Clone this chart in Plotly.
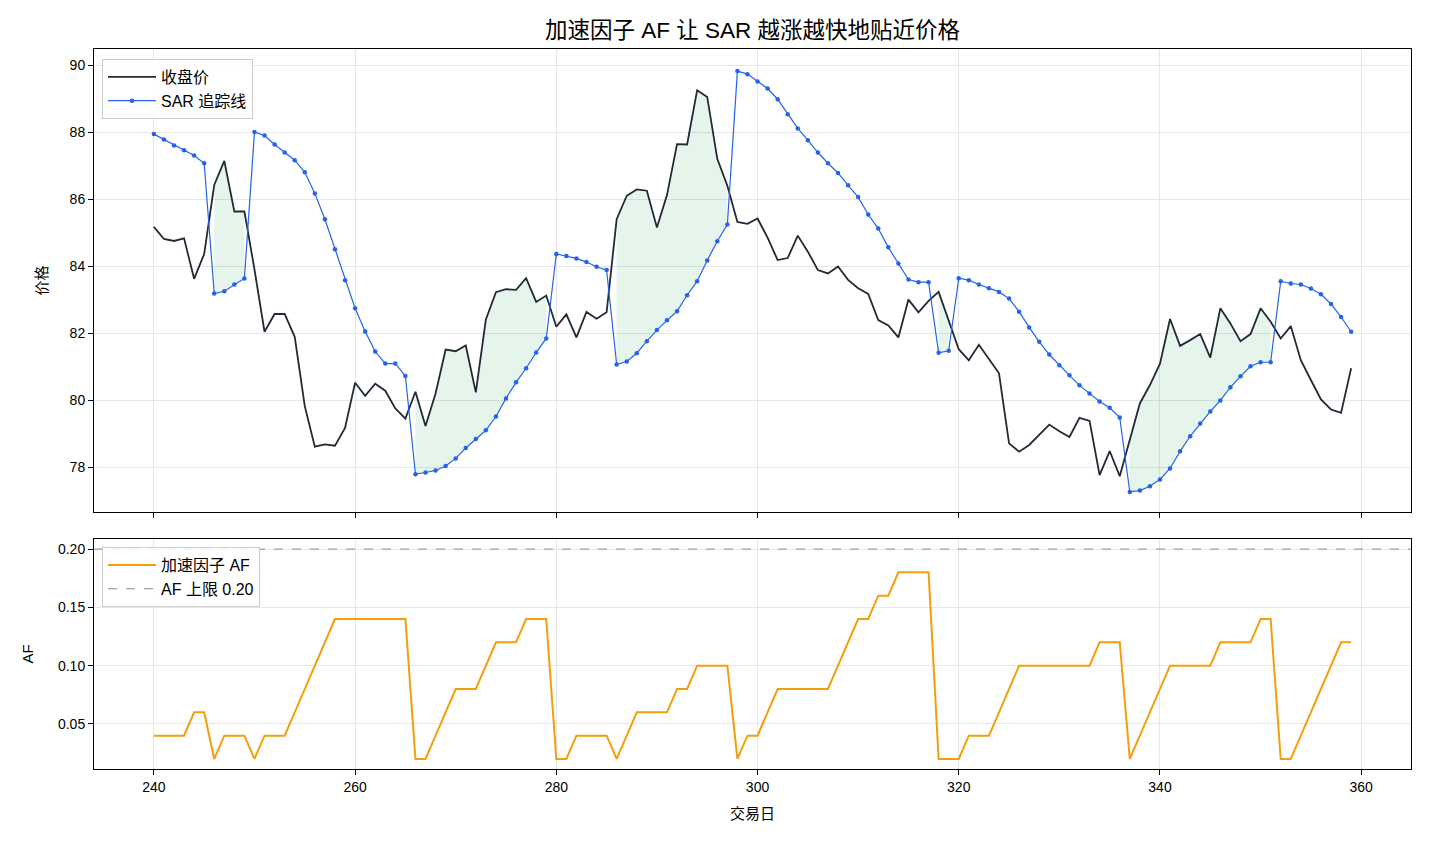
import plotly.graph_objects as go

days = list(range(240, 360))

close = [85.17, 84.81, 84.75, 84.83, 83.62, 84.36, 86.42, 87.14, 85.63, 85.63,
         83.90, 82.04, 82.57, 82.57, 81.89, 79.82, 78.61, 78.68, 78.64, 79.17,
         80.52, 80.13, 80.49, 80.28, 79.75, 79.45, 80.25, 79.23, 80.20, 81.51,
         81.46, 81.63, 80.23, 82.41, 83.22, 83.31, 83.29, 83.64, 82.93, 83.12,
         82.19, 82.56, 81.87, 82.63, 82.43, 82.62, 85.40, 86.10, 86.29, 86.25,
         85.15, 86.12, 87.64, 87.63, 89.25, 89.05, 87.20, 86.40, 85.32, 85.26,
         85.42, 84.85, 84.18, 84.24, 84.91, 84.43, 83.88, 83.78, 83.99, 83.59,
         83.34, 83.17, 82.39, 82.23, 81.87, 83.00, 82.62, 82.96, 83.23, 82.39,
         81.52, 81.19, 81.65, 81.23, 80.80, 78.71, 78.46, 78.66, 78.97, 79.27,
         79.07, 78.90, 79.47, 79.38, 77.76, 78.48, 77.73, 78.81, 79.90, 80.45,
         81.09, 82.42, 81.62, 81.79, 81.97, 81.27, 82.74, 82.29, 81.76, 81.97,
         82.74, 82.34, 81.84, 82.21, 81.19, 80.60, 80.02, 79.72, 79.62, 80.95]

sar = [87.94, 87.78, 87.60, 87.46, 87.30, 87.07, 83.18, 83.25, 83.45, 83.63,
       88.00, 87.90, 87.63, 87.39, 87.16, 86.80, 86.17, 85.40, 84.50, 83.58,
       82.74, 82.05, 81.45, 81.09, 81.09, 80.72, 77.79, 77.84, 77.90, 78.03,
       78.26, 78.57, 78.84, 79.10, 79.51, 80.05, 80.53, 80.95, 81.42, 81.84,
       84.36, 84.30, 84.23, 84.12, 83.98, 83.88, 81.06, 81.15, 81.40, 81.76,
       82.09, 82.38, 82.65, 83.13, 83.55, 84.17, 84.74, 85.24, 89.82, 89.73,
       89.51, 89.30, 88.98, 88.53, 88.11, 87.76, 87.39, 87.07, 86.78, 86.41,
       86.06, 85.54, 85.12, 84.56, 84.08, 83.60, 83.52, 83.52, 81.41, 81.47,
       83.64, 83.58, 83.45, 83.34, 83.23, 83.03, 82.64, 82.17, 81.74, 81.36,
       81.04, 80.74, 80.44, 80.20, 79.96, 79.77, 79.48, 77.26, 77.30, 77.43,
       77.63, 77.96, 78.47, 78.92, 79.30, 79.66, 79.99, 80.38, 80.71, 81.01,
       81.13, 81.13, 83.55, 83.48, 83.45, 83.33, 83.16, 82.87, 82.48, 82.04]

af = [0.04, 0.04, 0.04, 0.04, 0.06, 0.06, 0.02, 0.04, 0.04, 0.04,
      0.02, 0.04, 0.04, 0.04, 0.06, 0.08, 0.10, 0.12, 0.14, 0.14,
      0.14, 0.14, 0.14, 0.14, 0.14, 0.14, 0.02, 0.02, 0.04, 0.06,
      0.08, 0.08, 0.08, 0.10, 0.12, 0.12, 0.12, 0.14, 0.14, 0.14,
      0.02, 0.02, 0.04, 0.04, 0.04, 0.04, 0.02, 0.04, 0.06, 0.06,
      0.06, 0.06, 0.08, 0.08, 0.10, 0.10, 0.10, 0.10, 0.02, 0.04,
      0.04, 0.06, 0.08, 0.08, 0.08, 0.08, 0.08, 0.08, 0.10, 0.12,
      0.14, 0.14, 0.16, 0.16, 0.18, 0.18, 0.18, 0.18, 0.02, 0.02,
      0.02, 0.04, 0.04, 0.04, 0.06, 0.08, 0.10, 0.10, 0.10, 0.10,
      0.10, 0.10, 0.10, 0.10, 0.12, 0.12, 0.12, 0.02, 0.04, 0.06,
      0.08, 0.10, 0.10, 0.10, 0.10, 0.10, 0.12, 0.12, 0.12, 0.12,
      0.14, 0.14, 0.02, 0.02, 0.04, 0.06, 0.08, 0.10, 0.12, 0.12]

AF_MAX = 0.20

FONT = "Liberation Sans, Arial, Noto Sans CJK SC, sans-serif"
C_CLOSE = "#222a36"
C_SAR = "#2563eb"
C_AF = "#f59e0b"
C_CAP = "#9ca3af"
C_FILL = "rgba(22,163,74,0.11)"
GRID = "#e6e6e6"

fig = go.Figure()

# green fill where SAR is below price (uptrend segments)
up = [s < c for s, c in zip(sar, close)]
segs = []
start = None
for i, u in enumerate(up):
    if u and start is None:
        start = i
    if (not u or i == len(up) - 1) and start is not None:
        end = i if u else i - 1
        segs.append((start, end))
        start = None
for a, b in segs:
    xs = days[a:b + 1] + days[a:b + 1][::-1]
    ys = close[a:b + 1] + sar[a:b + 1][::-1]
    fig.add_trace(go.Scatter(x=xs, y=ys, fill="toself", fillcolor=C_FILL,
                             mode="none", showlegend=False, hoverinfo="skip",
                             xaxis="x", yaxis="y"))

fig.add_trace(go.Scatter(x=days, y=close, mode="lines", name="收盘价",
                         line=dict(color=C_CLOSE, width=1.8),
                         xaxis="x", yaxis="y", legend="legend"))
fig.add_trace(go.Scatter(x=days, y=sar, mode="lines+markers", name="SAR 追踪线",
                         line=dict(color=C_SAR, width=1.2),
                         marker=dict(color=C_SAR, size=4.5),
                         xaxis="x", yaxis="y", legend="legend"))

fig.add_trace(go.Scatter(x=days, y=af, mode="lines", name="加速因子 AF",
                         line=dict(color=C_AF, width=2),
                         xaxis="x2", yaxis="y2", legend="legend2"))

fig.add_shape(type="line", xref="x2 domain", yref="y2", x0=0, x1=1,
              y0=AF_MAX, y1=AF_MAX, line=dict(color=C_CAP, width=1.2, dash="dash"),
              showlegend=True, name="AF 上限 0.20", legend="legend2", layer="above")

axis_common = dict(showline=True, linecolor="black", linewidth=1, mirror=True,
                   ticks="outside", ticklen=5, tickcolor="black",
                   showgrid=True, gridcolor=GRID, gridwidth=1, zeroline=False,
                   tickfont=dict(size=14, color="black", family=FONT))

legend_common = dict(xanchor="left", yanchor="top",
                     bgcolor="rgba(255,255,255,0.85)", bordercolor="#cccccc", borderwidth=1,
                     font=dict(size=16, family=FONT), tracegroupgap=4, itemwidth=48)

fig.update_layout(
    width=1430, height=845,
    margin=dict(l=0, r=0, t=0, b=0),
    paper_bgcolor="white", plot_bgcolor="white",
    font=dict(family=FONT, color="black"),
    title=dict(text="加速因子 AF 让 SAR 越涨越快地贴近价格", x=752.5 / 1430, xanchor="center",
               y=1 - 30 / 845, yanchor="middle", font=dict(size=22.5, color="black")),
    xaxis=dict(domain=[94 / 1430, 1411 / 1430], range=[234.05, 364.95],
               anchor="y", matches="x2", showticklabels=False,
               tickvals=[240, 260, 280, 300, 320, 340, 360], **axis_common),
    yaxis=dict(domain=[(845 - 512) / 845, (845 - 49) / 845], range=[76.66, 90.48],
               tickvals=[78, 80, 82, 84, 86, 88, 90], anchor="x",
               title=dict(text="价格", font=dict(size=15), standoff=18), **axis_common),
    xaxis2=dict(domain=[94 / 1430, 1411 / 1430], range=[234.05, 364.95], anchor="y2",
                tickvals=[240, 260, 280, 300, 320, 340, 360],
                title=dict(text="交易日", font=dict(size=15), standoff=14), **axis_common),
    yaxis2=dict(domain=[(845 - 769) / 845, (845 - 539) / 845], range=[0.0114, 0.2086],
                tickvals=[0.05, 0.10, 0.15, 0.20], tickformat=".2f", anchor="x2",
                title=dict(text="AF", font=dict(size=15), standoff=20), **axis_common),
    legend=dict(x=102 / 1430, y=1 - 59 / 845, **legend_common),
    legend2=dict(x=102 / 1430, y=1 - 547 / 845, **legend_common),
)

fig.write_html("out.html")
